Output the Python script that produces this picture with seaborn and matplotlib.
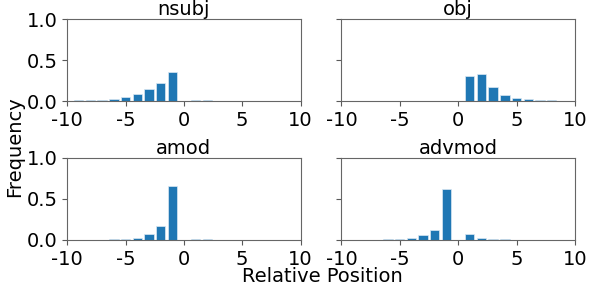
import numpy as np
import pandas as pd
import seaborn as sns
import matplotlib.pyplot as plt

positions = list(range(-10, 11))

nsubj = [0.006, 0.01, 0.012, 0.015, 0.024, 0.044, 0.08, 0.147, 0.22, 0.36, 0.0,
         0.008, 0.008, 0.006, 0.0, 0.0, 0.0, 0.0, 0.0, 0.0, 0.0]
obj = [0.0, 0.0, 0.0, 0.0, 0.0, 0.0, 0.0, 0.005, 0.0, 0.0, 0.0,
       0.31, 0.33, 0.175, 0.07, 0.04, 0.02, 0.01, 0.008, 0.0, 0.0]
amod = [0.0, 0.0, 0.0, 0.005, 0.012, 0.016, 0.028, 0.068, 0.17, 0.66, 0.0,
        0.01, 0.007, 0.0, 0.0, 0.0, 0.0, 0.0, 0.0, 0.0, 0.0]
advmod = [0.0, 0.0, 0.0, 0.004, 0.007, 0.012, 0.028, 0.06, 0.12, 0.62, 0.0,
          0.068, 0.024, 0.012, 0.01, 0.005, 0.004, 0.0, 0.0, 0.0, 0.0]

relations = ["nsubj", "obj", "amod", "advmod"]
series = [nsubj, obj, amod, advmod]

plt.rcParams['font.size'] = 14
plt.rcParams['axes.unicode_minus'] = False

fig, axes = plt.subplots(2, 2, figsize=(5.89, 2.93), dpi=100, sharey=True)

for ax, name, vals in zip(axes.flat, relations, series):
    df = pd.DataFrame({"pos": positions, "freq": vals})
    sns.barplot(data=df, x="pos", y="freq", native_scale=True, color="#1f77b4",
                saturation=1, width=0.8, edgecolor="#dbe8f3", linewidth=0.5, ax=ax)
    ax.set_title(name, fontsize=14, pad=0.8)
    ax.set_xlim(-10, 10)
    ax.set_ylim(0, 1)
    ax.set_xticks([-10, -5, 0, 5, 10])
    ax.set_yticks([0, 0.5, 1.0])
    ax.set_xlabel("")
    ax.set_ylabel("")
    ax.tick_params(labelsize=14, color="0.35")
    for s in ax.spines.values():
        s.set_color("0.4")

fig.subplots_adjust(left=0.114, right=0.976, top=0.935, bottom=0.181, wspace=0.175, hspace=0.695)
fig.text(0.548, 0.0386, "Relative Position", ha="center", va="baseline", fontsize=14)
fig.text(0.008, 0.5, "Frequency", ha="left", va="center", rotation=90, fontsize=14)

fig.savefig("out.png", dpi=100)
